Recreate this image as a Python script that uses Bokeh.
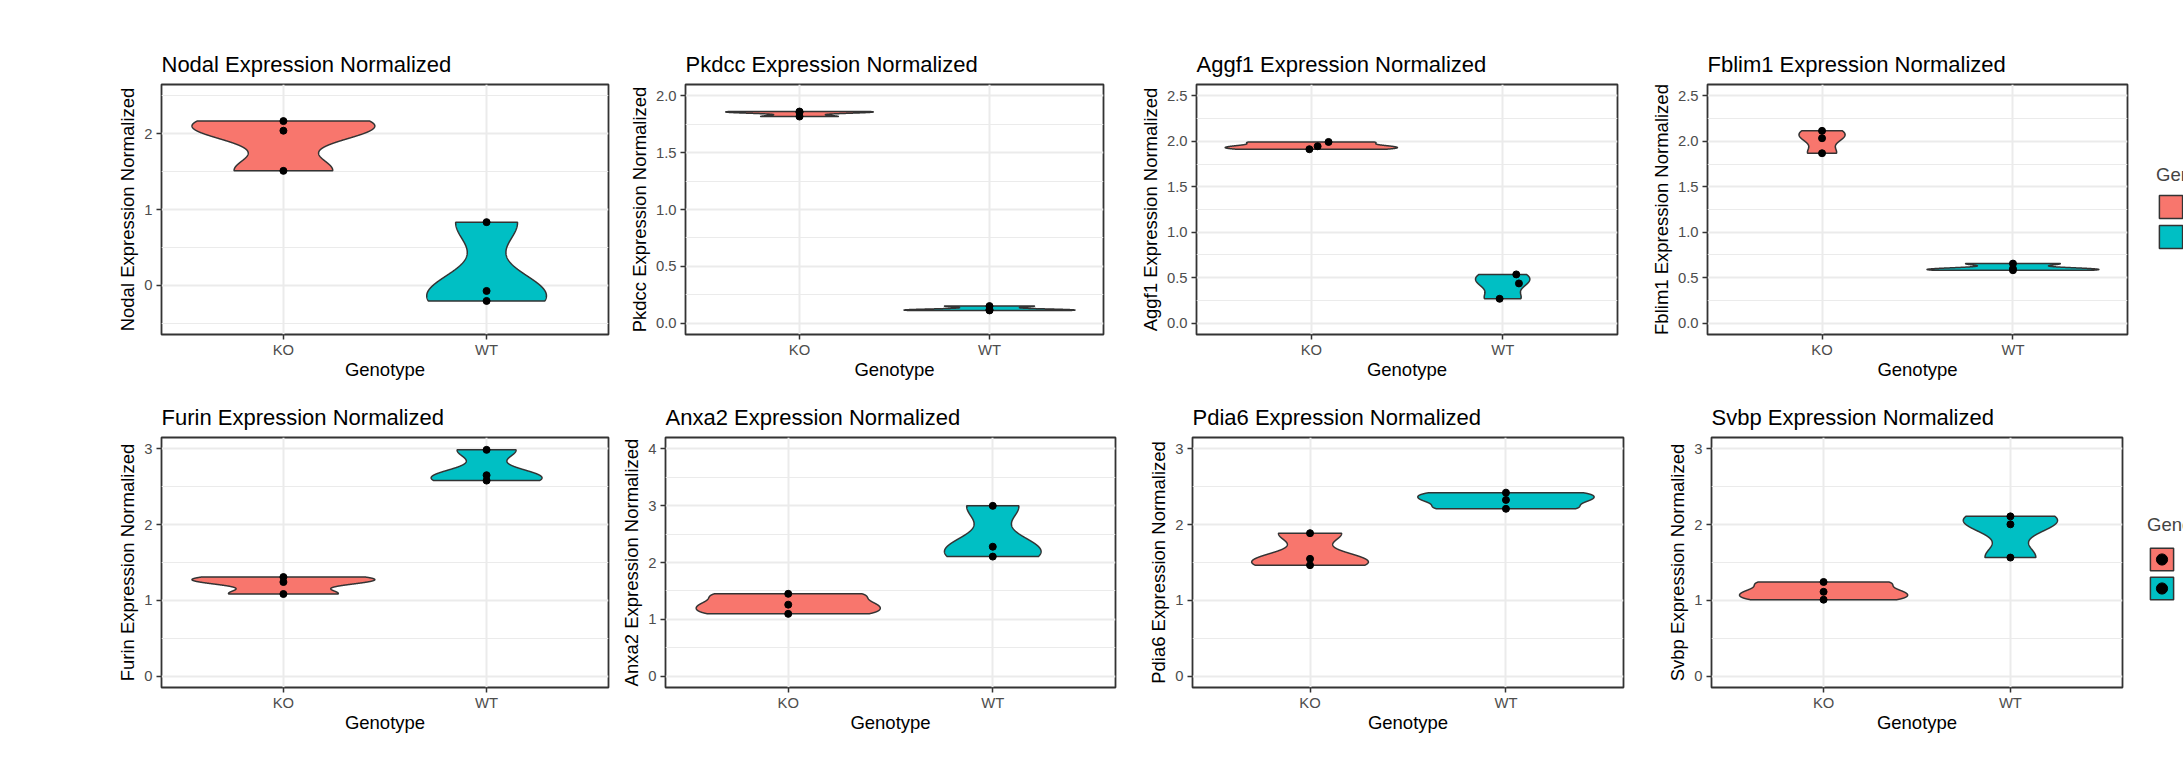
import numpy as np
from bokeh.plotting import figure
from bokeh.layouts import row, column
from bokeh.models import FixedTicker, Range1d, Legend, LegendItem
from bokeh.embed import file_html
from bokeh.resources import INLINE

# ---------------- data ----------------
categories = ["KO", "WT"]
fill_colors = ["#F8766D", "#00BFC4"]
legend_title = "Genotype"

genes = ["Nodal", "Pkdcc", "Aggf1", "Fblim1", "Furin", "Anxa2", "Pdia6", "Svbp"]

nodal_ko = [2.167, 2.040, 1.510]
nodal_wt = [0.833, -0.075, -0.207]
pkdcc_ko = [1.862, 1.855, 1.818]
pkdcc_wt = [0.150, 0.118, 0.112]
aggf1_ko = [1.913, 1.946, 1.993]
aggf1_wt = [0.536, 0.437, 0.268]
fblim1_ko = [2.115, 2.034, 1.869]
fblim1_wt = [0.655, 0.598, 0.582]
furin_ko = [1.308, 1.242, 1.084]
furin_wt = [2.987, 2.652, 2.581]
anxa2_ko = [1.449, 1.258, 1.096]
anxa2_wt = [2.997, 2.278, 2.104]
pdia6_ko = [1.887, 1.548, 1.465]
pdia6_wt = [2.422, 2.326, 2.209]
svbp_ko = [1.243, 1.113, 1.009]
svbp_wt = [2.109, 2.004, 1.565]

# horizontal jitter of the points (only the Aggf1 panel shows jitter)
aggf1_jitter_ko = [-0.010, 0.033, 0.090]
aggf1_jitter_wt = [0.071, 0.085, -0.016]
no_jitter = [0.0, 0.0, 0.0]

# y-axis limits, ticks and tick labels per panel
ylim_nodal = (-0.65, 2.65)
ylim_pkdcc = (-0.10, 2.10)
ylim_aggf1 = (-0.125, 2.625)
ylim_fblim1 = (-0.125, 2.625)
ylim_furin = (-0.15, 3.15)
ylim_anxa2 = (-0.20, 4.20)
ylim_pdia6 = (-0.15, 3.15)
ylim_svbp = (-0.15, 3.15)

ticks_nodal = [0, 1, 2]
labels_nodal = ["0", "1", "2"]
minor_nodal = [-0.5, 0.5, 1.5, 2.5]
ticks_half = [0, 0.5, 1, 1.5, 2]
labels_half = ["0.0", "0.5", "1.0", "1.5", "2.0"]
minor_half = [0.25, 0.75, 1.25, 1.75]
ticks_half25 = [0, 0.5, 1, 1.5, 2, 2.5]
labels_half25 = ["0.0", "0.5", "1.0", "1.5", "2.0", "2.5"]
minor_half25 = [0.25, 0.75, 1.25, 1.75, 2.25]
ticks_3 = [0, 1, 2, 3]
labels_3 = ["0", "1", "2", "3"]
minor_3 = [0.5, 1.5, 2.5]
ticks_4 = [0, 1, 2, 3, 4]
labels_4 = ["0", "1", "2", "3", "4"]
minor_4 = [0.5, 1.5, 2.5, 3.5]

FONT = "Liberation Sans"
OUTLINE = "#333333"


def density_profile(vals, n=512):
    """Gaussian KDE (R's default bw.nrd0), trimmed to the data range (ggplot geom_violin)."""
    x = np.asarray(vals, float)
    sd = x.std(ddof=1)
    q75, q25 = np.percentile(x, [75, 25])
    lo = min(sd, (q75 - q25) / 1.34)
    if lo <= 0:
        lo = sd if sd > 0 else 1.0
    bw = 0.9 * lo * len(x) ** -0.2
    grid = np.linspace(x.min(), x.max(), n)
    dens = np.exp(-0.5 * ((grid[:, None] - x[None, :]) / bw) ** 2).sum(1) / (len(x) * bw * np.sqrt(2 * np.pi))
    return grid, dens


def make_panel(gene, ko, wt, ylim, ticks, labels, minor, jit_ko, jit_wt,
               fig_x, frame_x, fig_y, frame_y):
    width = fig_x[1] - fig_x[0]
    height = fig_y[1] - fig_y[0]
    p = figure(width=width, height=height, output_backend="svg", toolbar_location=None,
               x_range=Range1d(0.4, 2.6), y_range=Range1d(*ylim),
               min_border_left=frame_x[0] - fig_x[0], min_border_right=fig_x[1] - frame_x[1],
               min_border_top=frame_y[0] - fig_y[0], min_border_bottom=fig_y[1] - frame_y[1],
               title=f"{gene} Expression Normalized",
               x_axis_label="Genotype", y_axis_label=f"{gene} Expression Normalized")
    p.background_fill_color = "white"
    p.border_fill_color = "white"
    p.outline_line_color = OUTLINE
    p.outline_line_width = 1.8

    p.title.text_font = FONT
    p.title.text_font_size = "22px"
    p.title.text_font_style = "normal"
    p.title.text_color = "black"
    p.title.standoff = 16

    xpos = [i + 1 for i in range(len(categories))]
    p.xaxis.ticker = FixedTicker(ticks=xpos)
    p.xaxis.major_label_overrides = {xp: c for xp, c in zip(xpos, categories)}
    p.yaxis.ticker = FixedTicker(ticks=ticks, minor_ticks=minor)
    p.yaxis.major_label_overrides = {(int(t) if float(t).is_integer() else t): l for t, l in zip(ticks, labels)}

    for ax in (p.xaxis[0], p.yaxis[0]):
        ax.axis_line_color = None
        ax.major_tick_line_color = OUTLINE
        ax.major_tick_line_width = 1.5
        ax.major_tick_out = 5
        ax.major_tick_in = 0
        ax.minor_tick_line_color = None
        ax.major_label_text_font = FONT
        ax.major_label_text_font_size = "14.8px"
        ax.major_label_text_color = "#4D4D4D"
        ax.axis_label_text_font = FONT
        ax.axis_label_text_font_size = "18.5px"
        ax.axis_label_text_font_style = "normal"
        ax.axis_label_text_color = "black"
    p.xaxis.major_label_standoff = 2
    p.xaxis.axis_label_standoff = -2
    p.yaxis.major_label_standoff = 4
    p.yaxis.axis_label_standoff = 3

    p.xgrid.grid_line_color = "#EBEBEB"
    p.xgrid.grid_line_width = 2
    p.ygrid.grid_line_color = "#EBEBEB"
    p.ygrid.grid_line_width = 2
    p.ygrid.minor_grid_line_color = "#EBEBEB"
    p.ygrid.minor_grid_line_width = 1

    groups = [ko, wt]
    jitters = [jit_ko, jit_wt]
    profiles = [density_profile(g) for g in groups]
    dmax = max(d.max() for _, d in profiles)
    for i, ((grid, dens), vals, jit) in enumerate(zip(profiles, groups, jitters)):
        c = xpos[i]
        w = dens / dmax * 0.45
        xs = np.concatenate([c + w, (c - w)[::-1]])
        ys = np.concatenate([grid, grid[::-1]])
        p.patch(xs, ys, fill_color=fill_colors[i], line_color=OUTLINE, line_width=1.5)
        p.scatter([c + j for j in jit], vals, size=7, color="black")
    return p


def make_legend(fig_x, fig_y, frame_y, loc, glyph_w, glyph_h, title_gap, with_points):
    """Legend column at the right edge; frame top/bottom match the row's panels."""
    width = fig_x[1] - fig_x[0]
    height = fig_y[1] - fig_y[0]
    p = figure(width=width, height=height, output_backend="svg", toolbar_location=None,
               x_axis_type=None, y_axis_type=None, x_range=Range1d(0, 1), y_range=Range1d(0, 1),
               min_border_left=0, min_border_right=0,
               min_border_top=frame_y[0] - fig_y[0], min_border_bottom=fig_y[1] - frame_y[1])
    p.outline_line_color = None
    p.grid.visible = False
    p.background_fill_color = "white"
    p.border_fill_color = "white"
    nan = float("nan")
    items = []
    for i, cat in enumerate(categories):
        # key-only renderers (NaN geometry: nothing is drawn in the plot area)
        rs = [p.patch([nan], [nan], fill_color=fill_colors[i], line_color=OUTLINE, line_width=1.5)]
        if with_points:
            rs.append(p.scatter([nan], [nan], size=7, color="black"))
        items.append(LegendItem(label=cat, renderers=rs))
    leg = Legend(items=items, location=loc, title=legend_title,
                 title_text_font=FONT, title_text_font_size="18.5px", title_text_font_style="normal",
                 label_text_font=FONT, label_text_font_size="14.8px", label_standoff=9,
                 glyph_width=glyph_w, glyph_height=glyph_h, spacing=1, padding=0, margin=0,
                 title_standoff=title_gap, border_line_color=None, background_fill_alpha=0)
    p.add_layout(leg, "center")
    return p


row1_fig_x = [(0, 625), (625, 1135), (1135, 1640), (1640, 2140)]
row1_frame_x = [(161, 608), (683, 1103), (1196, 1617), (1707, 2127)]
row1_fig_y, row1_frame_y = (0, 390), (84, 334)
row2_fig_x = [(0, 618), (618, 1135), (1135, 1645), (1645, 2135)]
row2_frame_x = [(161, 608), (665, 1115), (1192, 1623), (1711, 2122)]
row2_fig_y, row2_frame_y = (390, 764), (437, 687)

specs1 = [
    ("Nodal", nodal_ko, nodal_wt, ylim_nodal, ticks_nodal, labels_nodal, minor_nodal, no_jitter, no_jitter),
    ("Pkdcc", pkdcc_ko, pkdcc_wt, ylim_pkdcc, ticks_half, labels_half, minor_half, no_jitter, no_jitter),
    ("Aggf1", aggf1_ko, aggf1_wt, ylim_aggf1, ticks_half25, labels_half25, minor_half25, aggf1_jitter_ko, aggf1_jitter_wt),
    ("Fblim1", fblim1_ko, fblim1_wt, ylim_fblim1, ticks_half25, labels_half25, minor_half25, no_jitter, no_jitter),
]
specs2 = [
    ("Furin", furin_ko, furin_wt, ylim_furin, ticks_3, labels_3, minor_3, no_jitter, no_jitter),
    ("Anxa2", anxa2_ko, anxa2_wt, ylim_anxa2, ticks_4, labels_4, minor_4, no_jitter, no_jitter),
    ("Pdia6", pdia6_ko, pdia6_wt, ylim_pdia6, ticks_3, labels_3, minor_3, no_jitter, no_jitter),
    ("Svbp", svbp_ko, svbp_wt, ylim_svbp, ticks_3, labels_3, minor_3, no_jitter, no_jitter),
]

figs1 = [make_panel(*s, row1_fig_x[k], row1_frame_x[k], row1_fig_y, row1_frame_y) for k, s in enumerate(specs1)]
figs1.append(make_legend((2140, 2183), row1_fig_y, row1_frame_y, (16, 83), 29, 29, 6, False))
figs2 = [make_panel(*s, row2_fig_x[k], row2_frame_x[k], row2_fig_y, row2_frame_y) for k, s in enumerate(specs2)]
figs2.append(make_legend((2135, 2183), row2_fig_y, row2_frame_y, (12, 85), 29, 28, 9, True))

layout = column(row(*figs1), row(*figs2))
open("out.html", "w").write(file_html(layout, INLINE))
